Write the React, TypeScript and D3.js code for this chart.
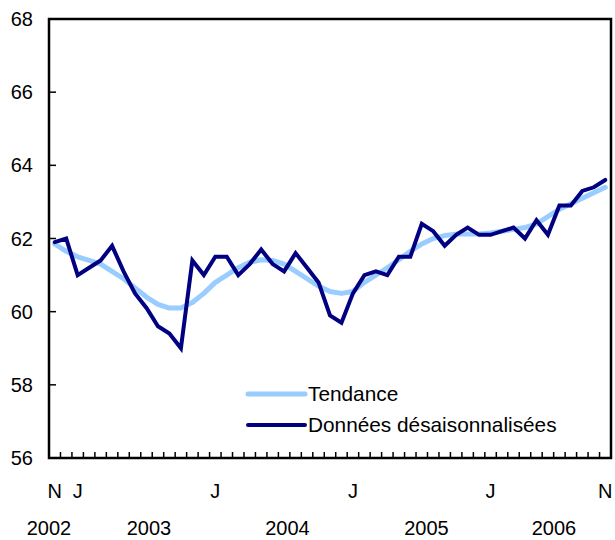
import React from "react";
import * as d3 from "d3";

const months: string[] = [
  "2002-11","2002-12",
  "2003-01","2003-02","2003-03","2003-04","2003-05","2003-06","2003-07","2003-08","2003-09","2003-10","2003-11","2003-12",
  "2004-01","2004-02","2004-03","2004-04","2004-05","2004-06","2004-07","2004-08","2004-09","2004-10","2004-11","2004-12",
  "2005-01","2005-02","2005-03","2005-04","2005-05","2005-06","2005-07","2005-08","2005-09","2005-10","2005-11","2005-12",
  "2006-01","2006-02","2006-03","2006-04","2006-05","2006-06","2006-07","2006-08","2006-09","2006-10","2006-11",
];

const seasonal: number[] = [
  61.9, 62.0,
  61.0, 61.2, 61.4, 61.8, 61.1, 60.5, 60.1, 59.6, 59.4, 59.0, 61.4, 61.0,
  61.5, 61.5, 61.0, 61.3, 61.7, 61.3, 61.1, 61.6, 61.2, 60.8, 59.9, 59.7,
  60.5, 61.0, 61.1, 61.0, 61.5, 61.5, 62.4, 62.2, 61.8, 62.1, 62.3, 62.1,
  62.1, 62.2, 62.3, 62.0, 62.5, 62.1, 62.9, 62.9, 63.3, 63.4, 63.6,
];

const trend: number[] = [
  61.85, 61.65,
  61.5, 61.4, 61.3, 61.1, 60.9, 60.65, 60.4, 60.2, 60.1, 60.1, 60.25, 60.5,
  60.8, 61.0, 61.2, 61.35, 61.42, 61.4, 61.3, 61.1, 60.9, 60.7, 60.55, 60.5,
  60.55, 60.8, 61.0, 61.2, 61.42, 61.65, 61.85, 62.0, 62.08, 62.12, 62.12, 62.12,
  62.15, 62.2, 62.25, 62.3, 62.4, 62.6, 62.8, 62.95, 63.1, 63.25, 63.4,
];

const yTicks: number[] = [56, 58, 60, 62, 64, 66, 68];
const monthLabels: { month: string; label: string }[] = [
  { month: "2002-11", label: "N" },
  { month: "2003-01", label: "J" },
  { month: "2004-01", label: "J" },
  { month: "2005-01", label: "J" },
  { month: "2006-01", label: "J" },
  { month: "2006-11", label: "N" },
];
const yearLabels: { year: string; x: number }[] = [
  { year: "2002", x: 49 },
  { year: "2003", x: 149 },
  { year: "2004", x: 287.5 },
  { year: "2005", x: 426.5 },
  { year: "2006", x: 554 },
];
const legendItems: { label: string; color: string }[] = [
  { label: "Tendance", color: "#99CCFF" },
  { label: "Données désaisonnalisées", color: "#000080" },
];

const W = 615;
const H = 540;
const left = 49;
const right = 611;
const top = 19;
const bottom = 458;
const font = "'Liberation Sans', Arial, Helvetica, sans-serif";

export default function App() {
  const x = d3.scaleBand<string>().domain(months).range([left, right]).padding(0);
  const y = d3.scaleLinear().domain([56, 68]).range([bottom, top]);
  const cx = (m: string) => (x(m) as number) + x.bandwidth() / 2;

  const line = d3
    .line<number>()
    .x((_, i) => cx(months[i]))
    .y((d) => y(d));

  return (
    <svg
      width={W}
      height={H}
      style={{ position: "absolute", left: 0, top: 0, background: "#fff" }}
      fontFamily={font}
    >
      <rect x={0} y={0} width={W} height={H} fill="#fff" />
      {/* month ticks along bottom, pointing inward */}
      {months.slice(1).map((m) => (
        <line
          key={m}
          x1={x(m) as number}
          x2={x(m) as number}
          y1={bottom}
          y2={bottom - 6}
          stroke="#000"
          strokeWidth={1.5}
        />
      ))}
      {/* y ticks */}
      {yTicks.slice(1, -1).map((t) => (
        <line key={t} x1={left} x2={left + 7} y1={y(t)} y2={y(t)} stroke="#000" strokeWidth={1.5} />
      ))}
      {/* frame */}
      <rect x={left} y={top} width={right - left} height={bottom - top} fill="none" stroke="#000" strokeWidth={2.5} />

      {/* series */}
      <path d={line(trend) || ""} fill="none" stroke="#99CCFF" strokeWidth={5} strokeLinejoin="round" strokeLinecap="round" />
      <path d={line(seasonal) || ""} fill="none" stroke="#000080" strokeWidth={4} strokeLinejoin="miter" strokeLinecap="round" />

      {/* y labels */}
      {yTicks.map((t) => (
        <text key={t} x={33} y={y(t)} dy="0.35em" textAnchor="end" fontSize={20} fill="#000">
          {t}
        </text>
      ))}
      {/* month labels */}
      {monthLabels.map((d) => (
        <text key={d.month} x={cx(d.month)} y={498} textAnchor="middle" fontSize={20} fill="#000">
          {d.label}
        </text>
      ))}
      {/* year labels */}
      {yearLabels.map((d) => (
        <text key={d.year} x={d.x} y={535} textAnchor="middle" fontSize={20} fill="#000">
          {d.year}
        </text>
      ))}

      {/* legend */}
      {legendItems.map((d, i) => (
        <g key={d.label} transform={`translate(0, ${394 + i * 31})`}>
          <line x1={248} x2={305} y1={0} y2={0} stroke={d.color} strokeWidth={i === 0 ? 5 : 4} strokeLinecap="round" />
          <text x={308} y={0} dy="0.35em" fontSize={20.8} fill="#000">
            {d.label}
          </text>
        </g>
      ))}
    </svg>
  );
}
